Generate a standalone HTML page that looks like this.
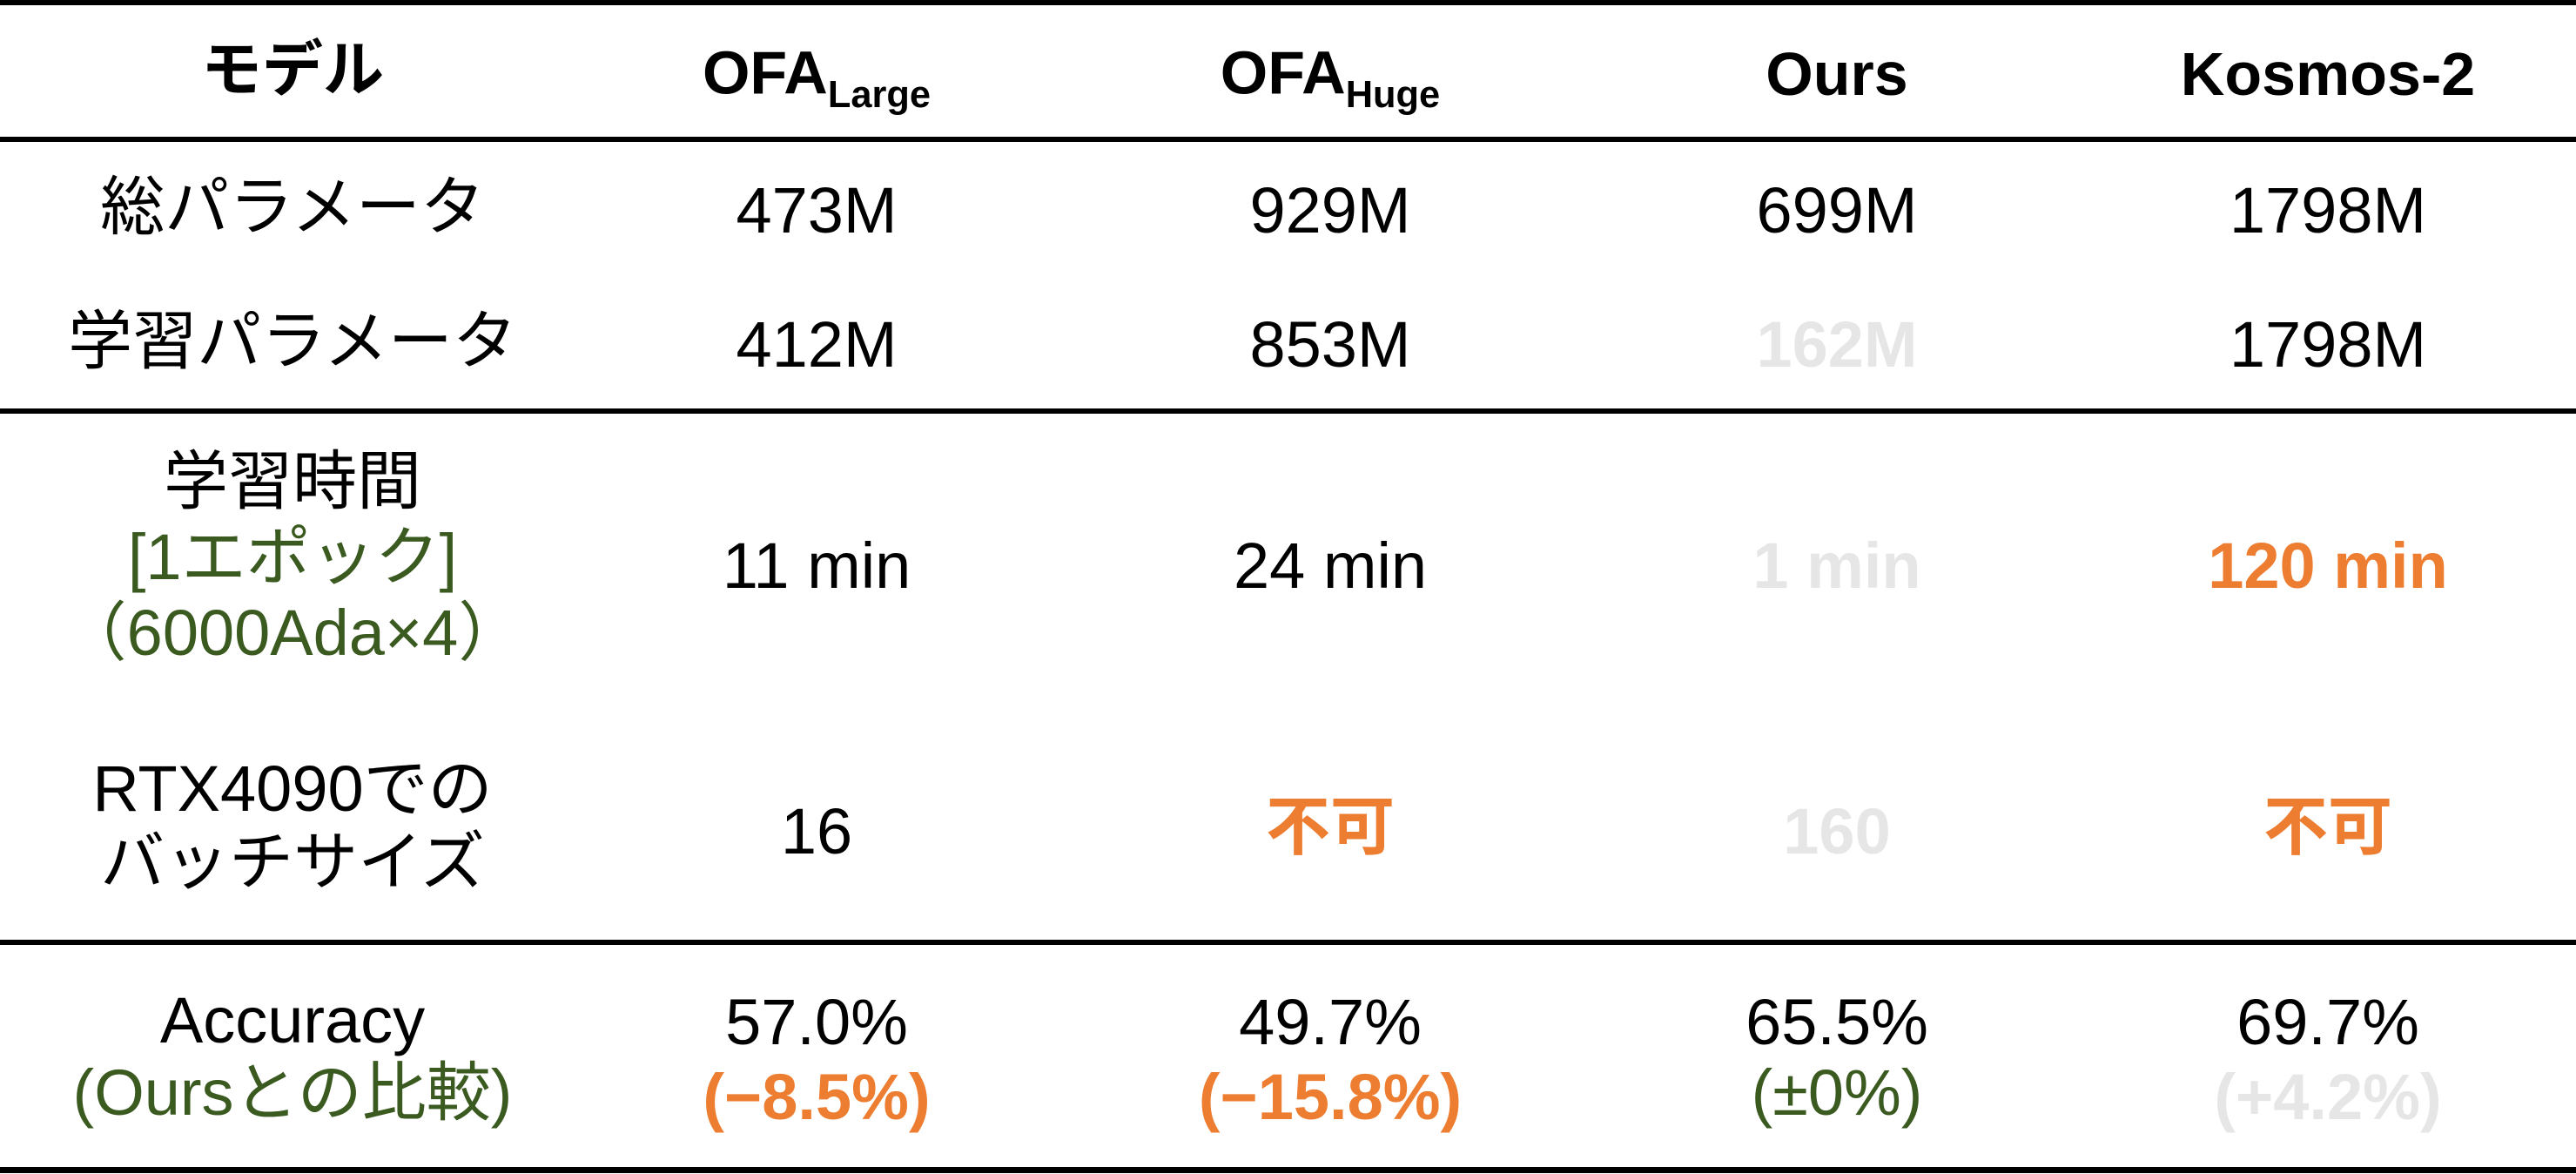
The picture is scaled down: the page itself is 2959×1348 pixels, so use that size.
<!DOCTYPE html>
<html><head><meta charset="utf-8">
<style>
body{margin:0;width:2959px;height:1348px;background:#fff;position:relative;overflow:hidden;
font-family:"Liberation Sans","Noto Sans CJK JP",sans-serif;color:#000;}
.t{position:absolute;transform:translate(-50%,-50%);white-space:nowrap;font-size:74px;line-height:1;text-align:center}
.b{font-weight:bold;font-size:70px}
.o{color:#ED7D31;font-weight:bold}
.g{color:#3A5A20}
.l{color:#E6E6E6;font-weight:bold}
.rule{position:absolute;left:0;width:2959px;height:6px;background:#000}
sub{font-size:0.62em;vertical-align:-0.35em}
</style></head><body>
<div class="rule" style="top:0"></div>
<div class="rule" style="top:157px"></div>
<div class="rule" style="top:469px"></div>
<div class="rule" style="top:1079px"></div>
<div class="rule" style="top:1340px;height:7px"></div>

<div class="t b" style="left:336px;top:80px">モデル</div>
<div class="t b" style="left:938px;top:90px">OFA<sub>Large</sub></div>
<div class="t b" style="left:1528px;top:90px">OFA<sub>Huge</sub></div>
<div class="t b" style="left:2110px;top:85px">Ours</div>
<div class="t b" style="left:2674px;top:85px">Kosmos-2</div>

<div class="t" style="left:336px;top:238px">総パラメータ</div>
<div class="t" style="left:938px;top:242px">473M</div>
<div class="t" style="left:1528px;top:242px">929M</div>
<div class="t" style="left:2110px;top:242px">699M</div>
<div class="t" style="left:2674px;top:242px">1798M</div>

<div class="t" style="left:336px;top:392px">学習パラメータ</div>
<div class="t" style="left:938px;top:396px">412M</div>
<div class="t" style="left:1528px;top:396px">853M</div>
<div class="t l" style="left:2110px;top:396px">162M</div>
<div class="t" style="left:2674px;top:396px">1798M</div>

<div class="t" style="left:336px;top:553px">学習時間</div>
<div class="t g" style="left:336px;top:640px">[1エポック]</div>
<div class="t g" style="left:336px;top:727px">（6000Ada×4）</div>
<div class="t" style="left:938px;top:650px">11 min</div>
<div class="t" style="left:1528px;top:650px">24 min</div>
<div class="t l" style="left:2110px;top:650px">1 min</div>
<div class="t o" style="left:2674px;top:650px">120 min</div>

<div class="t" style="left:336px;top:906px">RTX4090での</div>
<div class="t" style="left:336px;top:990px">バッチサイズ</div>
<div class="t" style="left:938px;top:955px">16</div>
<div class="t o" style="left:1528px;top:950px">不可</div>
<div class="t l" style="left:2110px;top:955px">160</div>
<div class="t o" style="left:2674px;top:950px">不可</div>

<div class="t" style="left:336px;top:1172px">Accuracy</div>
<div class="t g" style="left:336px;top:1255px">(Oursとの比較)</div>
<div class="t" style="left:938px;top:1174px">57.0%</div>
<div class="t o" style="left:938px;top:1260px">(−8.5%)</div>
<div class="t" style="left:1528px;top:1174px">49.7%</div>
<div class="t o" style="left:1528px;top:1260px">(−15.8%)</div>
<div class="t" style="left:2110px;top:1174px">65.5%</div>
<div class="t g" style="left:2110px;top:1255px">(±0%)</div>
<div class="t" style="left:2674px;top:1174px">69.7%</div>
<div class="t l" style="left:2674px;top:1260px">(+4.2%)</div>
</body></html>
